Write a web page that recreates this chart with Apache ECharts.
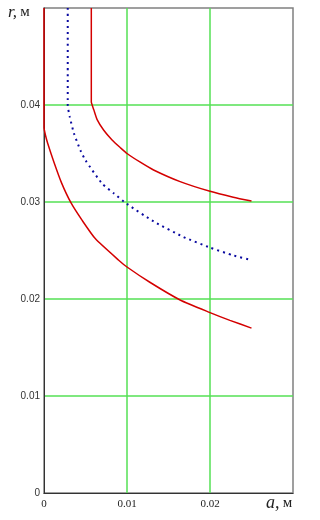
<!DOCTYPE html>
<html>
<head>
<meta charset="utf-8">
<script src="https://cdn.jsdelivr.net/npm/echarts@6/dist/echarts.min.js"></script>
<style>html,body{margin:0;padding:0;background:#fff;}#c{width:320px;height:520px;}</style>
</head>
<body>
<div id="c"></div>
<script>
var outerA = [0.0057, 0.0057, 0.0058, 0.006, 0.0064, 0.0072, 0.0082, 0.0092, 0.01, 0.0116, 0.0132, 0.0164, 0.02, 0.0228, 0.025];
var outerR = [0.05, 0.0403, 0.0400, 0.0395, 0.0385, 0.0374, 0.0364, 0.0356, 0.0350, 0.0341, 0.0333, 0.0321, 0.0311, 0.0305, 0.0301];
var innerA = [0, 0, 0.0002, 0.00046, 0.0012, 0.0021, 0.00326, 0.0046, 0.0062, 0.009, 0.01, 0.0128, 0.0164, 0.02, 0.0224, 0.025];
var innerR = [0.05, 0.0377, 0.0368, 0.0360, 0.0341, 0.0320, 0.0299, 0.0281, 0.0262, 0.0240, 0.0233, 0.0217, 0.0199, 0.0186, 0.0178, 0.0170];
var blueA = [0.00286, 0.00286, 0.0031, 0.0036, 0.0044, 0.0050, 0.0070, 0.0084, 0.01, 0.0132, 0.0168, 0.02, 0.0228, 0.025];
var blueR = [0.05, 0.0400, 0.0388, 0.0371, 0.0353, 0.0343, 0.0319, 0.0309, 0.0298, 0.0280, 0.0264, 0.0253, 0.0245, 0.0240];
var xTickLabels = ['0', '0.01', '0.02', ''];
var yTickLabels = ['0', '0.01', '0.02', '0.03', '0.04', ''];

function pairs(a, r) { return a.map(function (v, i) { return [v, r[i]]; }); }

var chart = echarts.init(document.getElementById('c'));
chart.setOption({
  animation: false,
  backgroundColor: '#fff',
  grid: { left: 44, top: 8, right: 27, bottom: 27, show: true, borderColor: '#808080', borderWidth: 1.5, backgroundColor: 'transparent' },
  xAxis: {
    type: 'value', min: 0, max: 0.03, interval: 0.01,
    axisLine: { show: true, lineStyle: { color: '#333', width: 1 } },
    axisTick: { show: false },
    axisLabel: { margin: 6, color: '#222', fontFamily: 'Liberation Serif', fontSize: 11,
      formatter: function (v) { return xTickLabels[Math.round(v / 0.01)]; } },
    splitLine: { show: true, showMinLine: false, showMaxLine: false, lineStyle: { color: '#55e055', width: 1.5 } }
  },
  yAxis: {
    type: 'value', min: 0, max: 0.05, interval: 0.01,
    axisLine: { show: true, lineStyle: { color: '#333', width: 1 } },
    axisTick: { show: false },
    axisLabel: { margin: 4, color: '#333', fontFamily: 'Liberation Sans', fontSize: 10,
      formatter: function (v) { return yTickLabels[Math.round(v / 0.01)]; } },
    splitLine: { show: true, showMinLine: false, showMaxLine: false, lineStyle: { color: '#55e055', width: 1.5 } }
  },
  graphic: [
    { type: 'text', left: 8, top: 4, style: { text: '{i|r,} {m|м}', rich: {
      i: { fontFamily: 'Liberation Serif', fontStyle: 'italic', fontSize: 17, fill: '#222' },
      m: { fontFamily: 'Liberation Serif', fontSize: 15, fill: '#222' } } } },
    { type: 'text', left: 266, top: 494, style: { text: '{i|a,} {m|м}', rich: {
      i: { fontFamily: 'Liberation Serif', fontStyle: 'italic', fontSize: 18, fill: '#222' },
      m: { fontFamily: 'Liberation Serif', fontSize: 15, fill: '#222' } } } }
  ],
  series: [
    { type: 'line', data: pairs(innerA, innerR), showSymbol: false, symbol: 'none', smooth: 0.2,
      lineStyle: { color: '#d40000', width: 1.5 }, clip: true },
    { type: 'line', data: pairs(outerA, outerR), showSymbol: false, symbol: 'none', smooth: 0.2,
      lineStyle: { color: '#d40000', width: 1.5 }, clip: true },
    { type: 'line', data: pairs(blueA, blueR), showSymbol: false, symbol: 'none', smooth: 0.2,
      lineStyle: { color: '#0a0aa0', width: 2, type: [2, 4] }, clip: true }
  ]
});
</script>
</body>
</html>
